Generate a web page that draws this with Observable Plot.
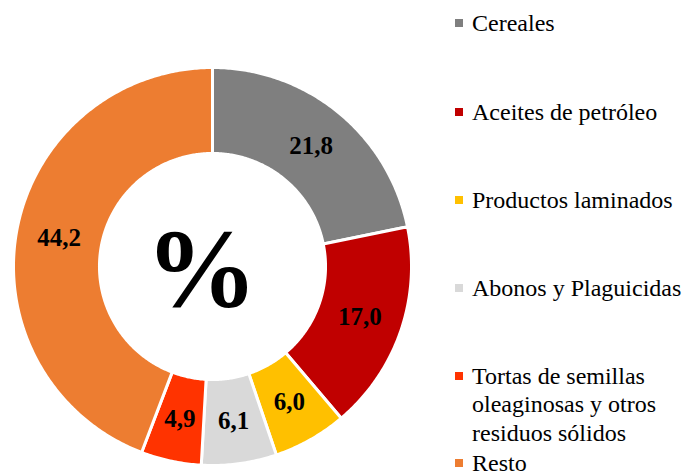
<!DOCTYPE html>
<html><head><meta charset="utf-8">
<script src="https://cdn.jsdelivr.net/npm/d3@7"></script>
<script src="https://cdn.jsdelivr.net/npm/@observablehq/plot@0.6"></script>
<style>
body{margin:0;background:#fff;}
#wrap{position:relative;width:687px;height:475px;font-family:"Liberation Serif",serif;overflow:hidden;}
#chart{position:absolute;left:0;top:0;}
.item{position:absolute;left:455px;display:flex;align-items:flex-start;font-size:24px;color:#000;}
.sw{width:8px;height:8px;margin-right:9px;flex:none}
.lbl{width:228px}
</style></head>
<body>
<div id="wrap"><div id="chart"></div><div id="legend"></div></div>
<script>
const categories = ["Cereales","Aceites de petróleo","Productos laminados","Abonos y Plaguicidas","Tortas de semillas oleaginosas y otros residuos sólidos","Resto"];
const values = [21.8, 17.0, 6.0, 6.1, 4.9, 44.2];
const colors = ["#7f7f7f","#c00000","#ffc000","#d9d9d9","#ff3300","#ed7d31"];
const centerLabel = "%";

const R_OUT = 1, R_IN = 0.568, R_LAB = 0.784;
const data = categories.map((c,i)=>({cat:c, value:values[i]}));
const arcs = d3.pie().sort(null).value(d=>d.value)(data);

const poly = [];
arcs.forEach(a=>{
  const n = Math.max(4, Math.ceil((a.endAngle-a.startAngle)/0.01));
  const pts = [];
  for(let k=0;k<=n;k++){const t=a.startAngle+(a.endAngle-a.startAngle)*k/n; pts.push([R_OUT*Math.sin(t), R_OUT*Math.cos(t)]);}
  for(let k=n;k>=0;k--){const t=a.startAngle+(a.endAngle-a.startAngle)*k/n; pts.push([R_IN*Math.sin(t), R_IN*Math.cos(t)]);}
  pts.push(pts[0]);
  pts.forEach(p=>poly.push({cat:a.data.cat, x:p[0], y:p[1]}));
});
const labels = arcs.map(a=>{const m=(a.startAngle+a.endAngle)/2; return {x:R_LAB*Math.sin(m), y:R_LAB*Math.cos(m), text:a.data.value.toFixed(1).replace(".",",")};});

const plot = Plot.plot({
  width:687, height:475, margin:0,
  style:{fontFamily:"Liberation Serif", background:"white"},
  x:{domain:[-1,1], range:[13,411], axis:null},
  y:{domain:[-1,1], range:[465,67], axis:null},
  color:{domain:categories, range:colors},
  marks:[
    Plot.line(poly,{x:"x",y:"y",z:"cat",fill:"cat",stroke:"white",strokeWidth:3,curve:"linear"}),
    Plot.text(labels,{x:"x",y:"y",text:"text",fontSize:25,fontWeight:"bold",fill:"black"}),
    Plot.text([centerLabel],{x:()=>0,y:()=>0,text:d=>d,fontSize:112,fontWeight:"bold",fill:"black",dx:-11,dy:5})
  ]
});
document.getElementById("chart").appendChild(plot);

const centers=[23,112,200,288,376,463];
const leg=document.getElementById("legend");
categories.forEach((c,i)=>{
  const lh = i===categories.length-1 ? 24 : 28.5;
  const it=document.createElement("div"); it.className="item";
  it.style.top=(centers[i]-lh/2)+"px"; it.style.lineHeight=lh+"px";
  const sw=document.createElement("div"); sw.className="sw"; sw.style.background=colors[i]; sw.style.marginTop=(lh/2-4)+"px";
  const l=document.createElement("div"); l.className="lbl"; l.textContent=c;
  it.appendChild(sw); it.appendChild(l); leg.appendChild(it);
});
</script>
</body></html>
